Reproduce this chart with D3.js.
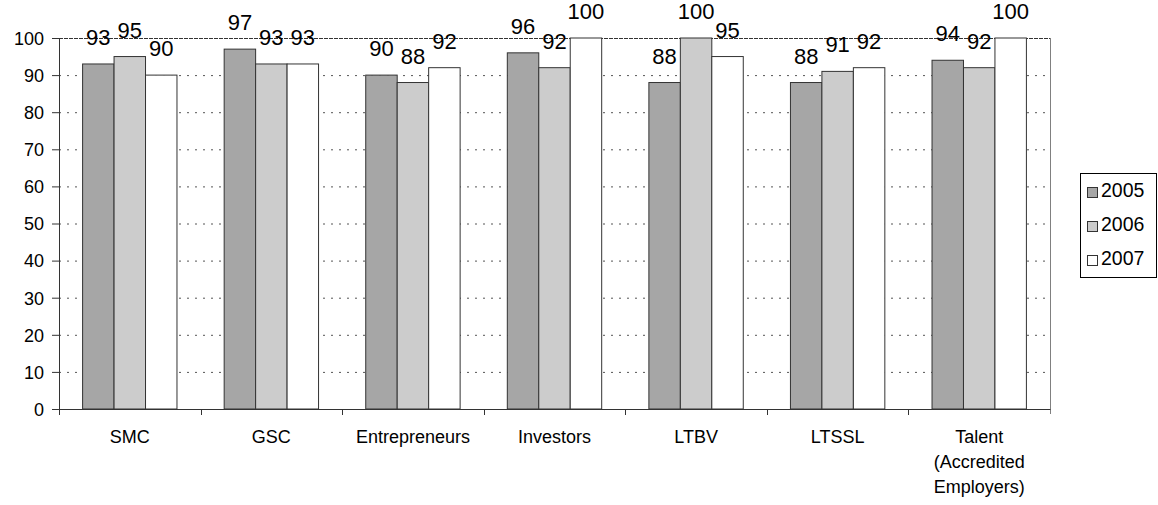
<!DOCTYPE html>
<meta charset="utf-8">
<script src="https://d3js.org/d3.v7.min.js"></script>
<style>
  body { margin: 0; background: #fff; }
  text { font-family: "Liberation Sans", Arial, sans-serif; fill: #000; }
</style>
<div id="my_dataviz"></div>
<script>
  // data
  var categories = ["SMC", "GSC", "Entrepreneurs", "Investors", "LTBV", "LTSSL", "Talent (Accredited Employers)"];
  var years = ["2005", "2006", "2007"];
  var v2005 = [93, 97, 90, 96, 88, 88, 94];
  var v2006 = [95, 93, 88, 92, 100, 91, 92];
  var v2007 = [90, 93, 92, 100, 95, 92, 100];
  var yTicks = [0, 10, 20, 30, 40, 50, 60, 70, 80, 90, 100];
  var colors = ["#a6a6a6", "#cccccc", "#ffffff"];

  var series = [v2005, v2006, v2007];

  // set the dimensions and margins of the graph
  var margin = { top: 38, right: 108, bottom: 96, left: 59 },
    width = 1158 - margin.left - margin.right,
    height = 505 - margin.top - margin.bottom;

  var svg = d3.select("#my_dataviz")
    .append("svg")
    .attr("width", 1158)
    .attr("height", 505);

  var g = svg.append("g")
    .attr("transform", "translate(" + margin.left + "," + margin.top + ")");

  var x0 = d3.scaleBand().domain(categories).range([0, width]).padding(0);
  var bw = x0.bandwidth();
  var gap = bw / 4.5 * 1.5;
  var x1 = d3.scaleBand().domain(years).range([gap / 2, bw - gap / 2]).padding(0);

  var y = d3.scaleLinear().domain([0, 100]).range([height, 0]);

  // dotted gridlines
  g.append("g")
    .selectAll("line")
    .data(yTicks.filter(function (d) { return d > 0; }))
    .join("line")
    .attr("x1", 0)
    .attr("x2", width)
    .attr("y1", function (d) { return y(d) + 0.5; })
    .attr("y2", function (d) { return y(d) + 0.5; })
    .attr("stroke", function (d) { return d === 100 ? "#333" : "#555"; })
    .attr("stroke-width", 1)
    .attr("stroke-dasharray", function (d) { return d === 100 ? "4,1" : "2,6"; });

  // right edge of the plot area
  g.append("line")
    .attr("x1", width + 0.5).attr("x2", width + 0.5)
    .attr("y1", 0).attr("y2", height + 5)
    .attr("stroke", "#808080");

  // bars
  var groups = g.append("g")
    .selectAll("g")
    .data(categories)
    .join("g")
    .attr("transform", function (d) { return "translate(" + x0(d) + ",0)"; });

  groups.selectAll("rect")
    .data(function (d, i) {
      return years.map(function (yr, j) { return { year: yr, value: series[j][i], j: j }; });
    })
    .join("rect")
    .attr("x", function (d) { return x1(d.year); })
    .attr("y", function (d) { return y(d.value); })
    .attr("width", x1.bandwidth())
    .attr("height", function (d) { return height - y(d.value); })
    .attr("fill", function (d) { return colors[d.j]; })
    .attr("stroke", "#333")
    .attr("stroke-width", 1);

  // value labels
  groups.selectAll("text")
    .data(function (d, i) {
      return years.map(function (yr, j) { return { year: yr, value: series[j][i] }; });
    })
    .join("text")
    .attr("x", function (d) { return x1(d.year) + x1.bandwidth() / 2; })
    .attr("y", function (d) { return y(d.value) - 19; })
    .attr("text-anchor", "middle")
    .style("font-size", "22px")
    .text(function (d) { return d.value; });

  // Y axis
  var yAxis = g.append("g")
    .call(d3.axisLeft(y).tickValues(yTicks).tickSize(7).tickPadding(8));
  yAxis.selectAll("text").style("font-size", "18px").attr("dy", "0.35em");
  yAxis.selectAll("line, path").attr("stroke", "#333");

  // X axis: line, ticks at category boundaries, wrapped labels
  var xAxis = g.append("g")
    .attr("transform", "translate(0," + height + ")")
    .call(d3.axisBottom(x0).tickSize(0).tickSizeOuter(0).tickPadding(21));
  xAxis.select("path").attr("stroke", "#333");
  xAxis.selectAll("text").style("font-size", "18px").attr("dy", "0.71em");

  g.append("g")
    .selectAll("line")
    .data(categories)
    .join("line")
    .attr("x1", function (d) { return Math.round(x0(d)) + 0.5; })
    .attr("x2", function (d) { return Math.round(x0(d)) + 0.5; })
    .attr("y1", height)
    .attr("y2", height + 6)
    .attr("stroke", "#333");

  xAxis.selectAll(".tick text").each(function () {
    var t = d3.select(this);
    if (this.getComputedTextLength() <= bw - 10) return;
    var words = t.text().split(" ");
    t.text(null);
    words.forEach(function (w, i) {
      t.append("tspan")
        .attr("x", 0)
        .attr("dy", i === 0 ? "0.71em" : "25px")
        .text(w);
    });
    t.attr("dy", null);
  });

  // legend
  var legend = svg.append("g").attr("transform", "translate(1080,173)");
  legend.append("rect")
    .attr("x", 0.5).attr("y", 0.5)
    .attr("width", 76).attr("height", 104)
    .attr("fill", "#fff")
    .attr("stroke", "#000");

  var items = legend.selectAll("g.item")
    .data(years)
    .join("g")
    .attr("class", "item")
    .attr("transform", function (d, i) { return "translate(0," + (i * 34) + ")"; });

  items.append("rect")
    .attr("x", 7.5).attr("y", 14.5)
    .attr("width", 10).attr("height", 10)
    .attr("fill", function (d, i) { return colors[i]; })
    .attr("stroke", "#333");

  items.append("text")
    .attr("x", 21)
    .attr("y", 24)
    .style("font-size", "19.5px")
    .text(function (d) { return d; });
</script>
